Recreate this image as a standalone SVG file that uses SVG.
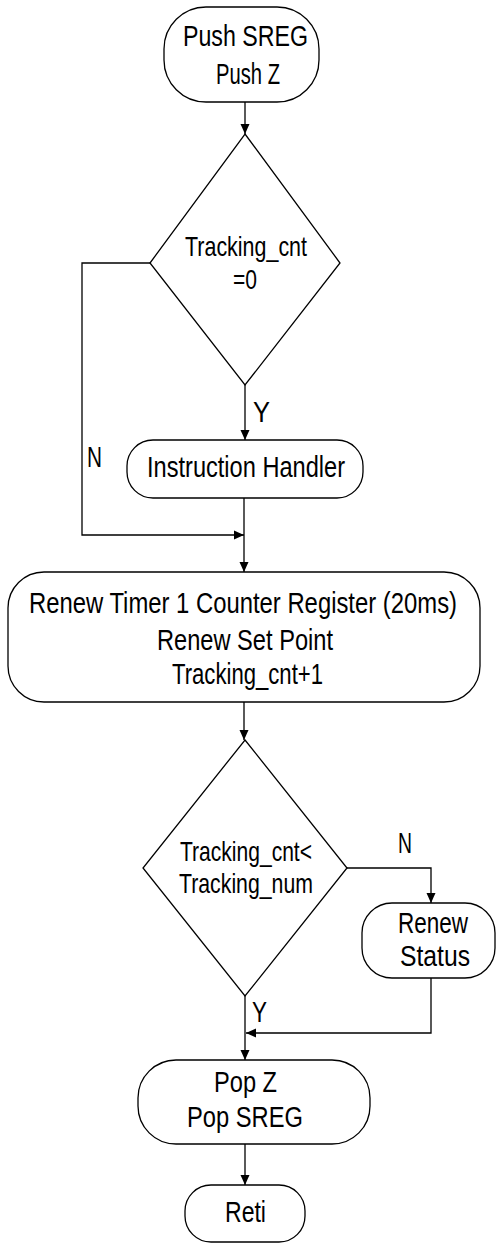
<svg xmlns="http://www.w3.org/2000/svg" width="496" height="1243" viewBox="0 0 496 1243">
<style>
.s{fill:#fff;stroke:#000;stroke-width:1.3}
.c{fill:none;stroke:#000;stroke-width:1.3}
text{font-family:"Liberation Sans Narrow","Liberation Sans",Arial,sans-serif;fill:#000;font-size:29px}
.d{font-size:28px}
</style>
<defs>
<marker id="ah" markerUnits="userSpaceOnUse" markerWidth="10" markerHeight="14" viewBox="0 0 10 14" refX="10" refY="7" orient="auto">
<path d="M0,2.5 L10,7 L0,11.5 Z" fill="#000"/>
</marker>
</defs>
<rect width="496" height="1243" fill="#fff"/>
<g id="connectors">
<path class="c" d="M245,102 V134" marker-end="url(#ah)"/>
<path class="c" d="M245,385 V440" marker-end="url(#ah)"/>
<path class="c" d="M150,263 H82 V535 H244" marker-end="url(#ah)"/>
<path class="c" d="M244,498 V572" marker-end="url(#ah)"/>
<path class="c" d="M244,702 V740" marker-end="url(#ah)"/>
<path class="c" d="M347,868 H431 V903" marker-end="url(#ah)"/>
<path class="c" d="M245,996 V1060" marker-end="url(#ah)"/>
<path class="c" d="M431,978 V1033 H246" marker-end="url(#ah)"/>
<path class="c" d="M245,1144 V1185" marker-end="url(#ah)"/>
<text x="253" y="422" textLength="17" lengthAdjust="spacingAndGlyphs">Y</text>
<text x="87" y="467" textLength="15" lengthAdjust="spacingAndGlyphs">N</text>
<text x="398" y="853" textLength="14" lengthAdjust="spacingAndGlyphs">N</text>
<text x="252" y="1022" textLength="15" lengthAdjust="spacingAndGlyphs">Y</text>
</g>
<g id="n_push">
<rect class="s" x="164" y="7" width="155" height="95" rx="42"/>
<text x="183" y="46" textLength="125" lengthAdjust="spacingAndGlyphs">Push SREG</text>
<text x="216" y="84" textLength="64" lengthAdjust="spacingAndGlyphs">Push Z</text>
</g>
<g id="n_dec1">
<polygon class="s" points="245,134 340,263 245,385 150,263"/>
<text class="d" x="185" y="256" textLength="122" lengthAdjust="spacingAndGlyphs">Tracking_cnt</text>
<text class="d" x="233" y="289" textLength="24" lengthAdjust="spacingAndGlyphs">=0</text>
</g>
<g id="n_handler">
<rect class="s" x="127" y="440" width="236" height="58" rx="26"/>
<text x="147" y="477" textLength="198" lengthAdjust="spacingAndGlyphs">Instruction Handler</text>
</g>
<g id="n_renew">
<rect class="s" x="8" y="572" width="472" height="130" rx="36"/>
<text x="29" y="613" textLength="428" lengthAdjust="spacingAndGlyphs">Renew Timer 1 Counter Register (20ms)</text>
<text x="157" y="650" textLength="176" lengthAdjust="spacingAndGlyphs">Renew Set Point</text>
<text x="172" y="684" textLength="151" lengthAdjust="spacingAndGlyphs">Tracking_cnt+1</text>
</g>
<g id="n_dec2">
<polygon class="s" points="245,740 347,868 245,996 143,868"/>
<text class="d" x="180" y="861" textLength="132" lengthAdjust="spacingAndGlyphs">Tracking_cnt&lt;</text>
<text class="d" x="179" y="893" textLength="134" lengthAdjust="spacingAndGlyphs">Tracking_num</text>
</g>
<g id="n_status">
<rect class="s" x="362" y="903" width="133" height="75" rx="30"/>
<text x="398" y="933" textLength="70" lengthAdjust="spacingAndGlyphs">Renew</text>
<text x="400" y="966" textLength="70" lengthAdjust="spacingAndGlyphs">Status</text>
</g>
<g id="n_pop">
<rect class="s" x="138" y="1060" width="232" height="84" rx="38"/>
<text x="214" y="1092" textLength="63" lengthAdjust="spacingAndGlyphs">Pop Z</text>
<text x="187" y="1127" textLength="116" lengthAdjust="spacingAndGlyphs">Pop SREG</text>
</g>
<g id="n_reti">
<rect class="s" x="185" y="1185" width="120" height="57" rx="26"/>
<text x="225" y="1222" textLength="41" lengthAdjust="spacingAndGlyphs">Reti</text>
</g>
</svg>
